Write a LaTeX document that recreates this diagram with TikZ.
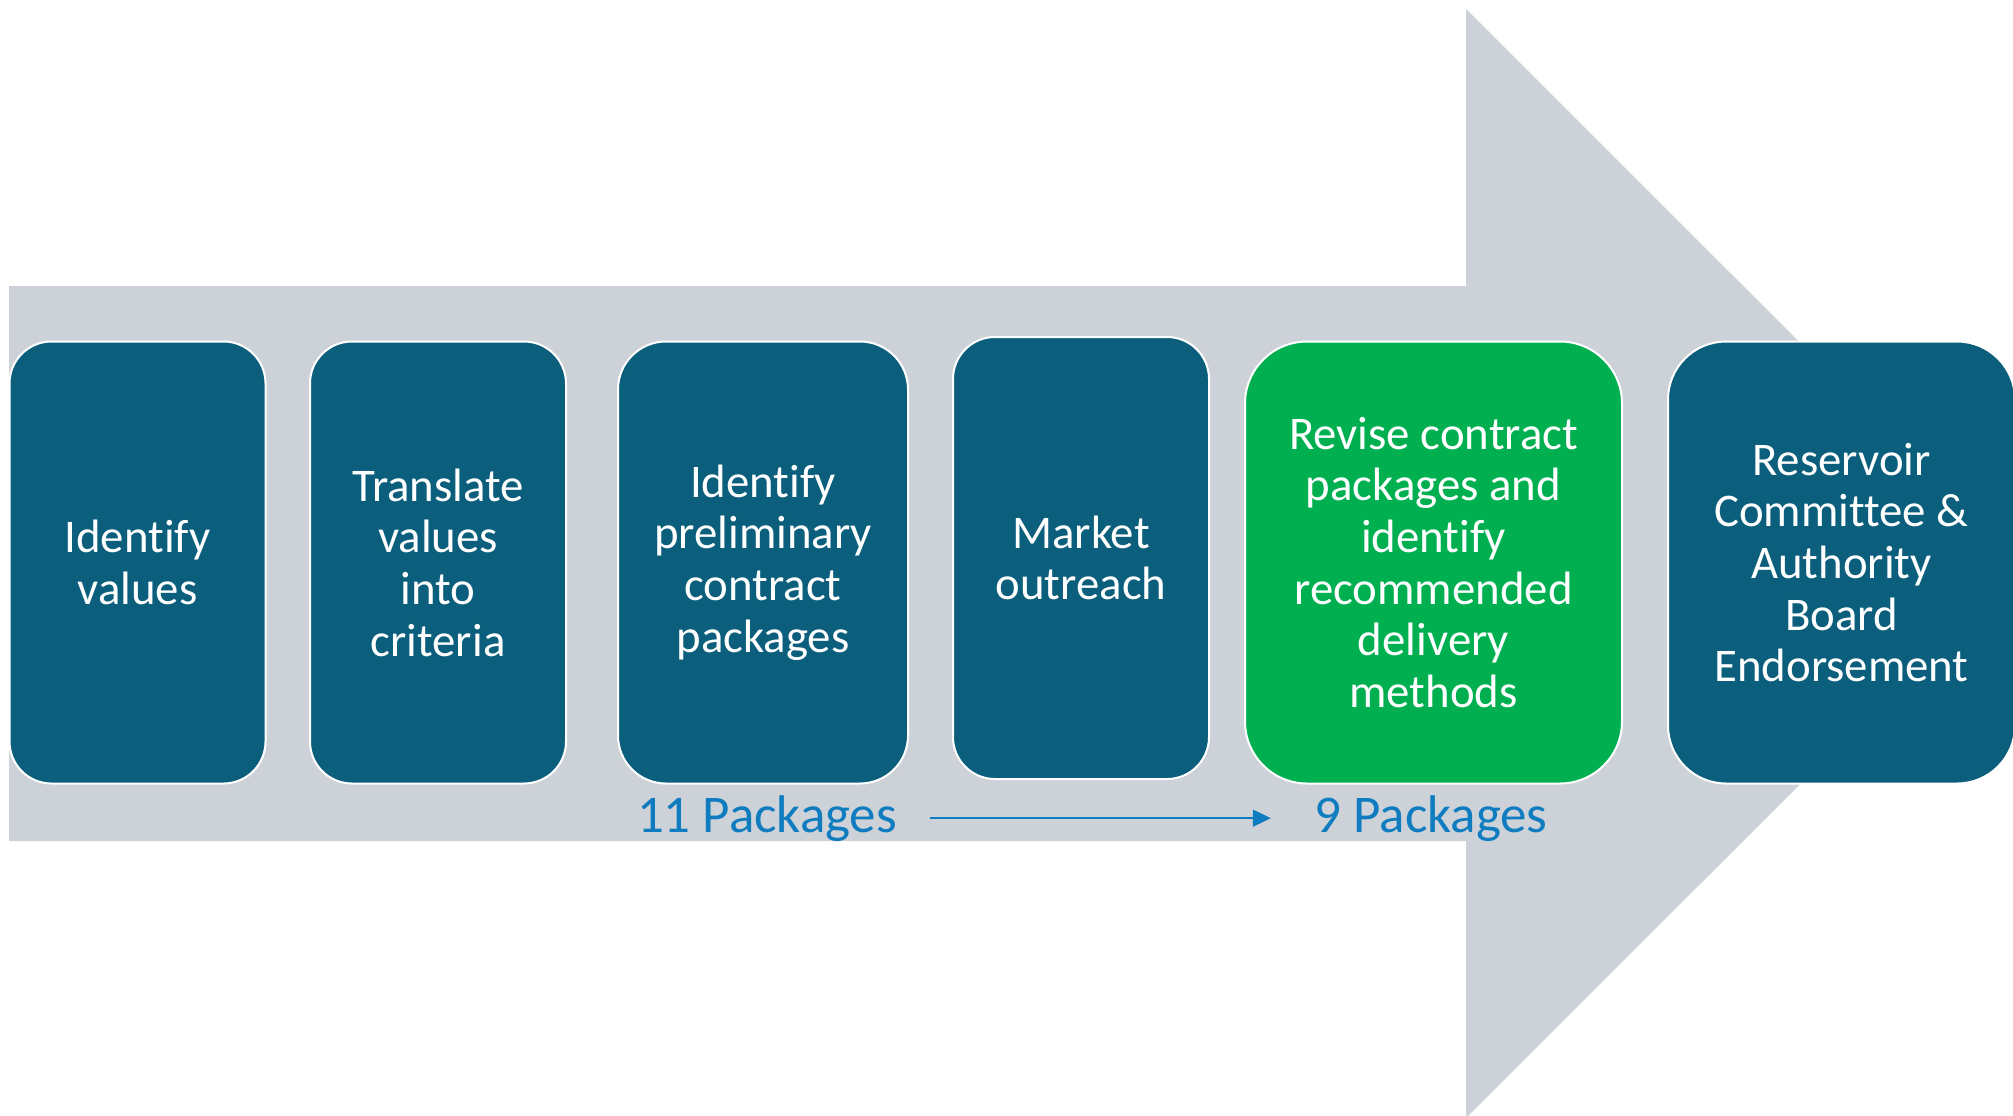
\documentclass[tikz,border=0pt]{standalone}
\usepackage{fontspec}
\setmainfont{Carlito}[Ligatures=NoCommon]
\usetikzlibrary{arrows.meta}
\definecolor{teal1}{RGB}{11,95,124}
\definecolor{green1}{RGB}{0,176,80}
\definecolor{grey1}{RGB}{205,210,217}
\definecolor{blue1}{RGB}{16,124,192}
\tikzset{
  stepbox/.style={draw=white, line width=1pt, fill=teal1, text=white, align=center,
    minimum height=221pt, inner sep=0pt,
    font=\fontsize{23.4}{25.85}\selectfont},
  greenbox/.style={stepbox, fill=green1},
  pkglabel/.style={text=blue1, inner sep=0pt, anchor=base,
    font=\fontsize{26.5}{30}\selectfont},
  pkgarrow/.style={draw=blue1, line width=0.7pt, -{Triangle[length=9pt,width=8.5pt]}},
}
\begin{document}
\begin{tikzpicture}[x=0.5pt, y=-0.5pt]
\useasboundingbox (0,0) rectangle (2013,1115);
\clip (0,0) rectangle (2013,1115);
% big arrow
\fill[grey1] (9,286) -- (1466,286) -- (1466,9) -- (2021,563.5) -- (1466,1118) -- (1466,841) -- (9,841) -- cycle;
% steps
\node[stepbox, minimum width=128pt, rounded corners=21pt] (b1) at (137.5,562.5) {Identify\\values};
\node[stepbox, minimum width=128pt, rounded corners=21pt] (b2) at (438,562.5) {Translate\\values\\into\\criteria};
\node[stepbox, minimum width=145pt, rounded corners=24pt] (b3) at (763,562.5) {Identify\\preliminary\\contract\\packages};
\node[stepbox, minimum width=128pt, rounded corners=21pt] (b4) at (1081,558) {Market\\outreach};
\node[greenbox, minimum width=188.5pt, rounded corners=31pt] (b5) at (1433.5,562.5) {Revise contract\\packages and\\identify\\recommended\\delivery\\methods};
\node[stepbox, minimum width=173.5pt, rounded corners=29pt] (b6) at (1841.5,562.5) {Reservoir\\Committee \&\\Authority\\Board\\Endorsement};
% package counts
\node[pkglabel] (p11) at (767,832) {11 Packages};
\node[pkglabel] (p9) at (1431,832) {9 Packages};
\draw[pkgarrow, shorten <=16.4pt, shorten >=21.6pt] (p11.east) -- (p9.west);
\end{tikzpicture}
\end{document}
